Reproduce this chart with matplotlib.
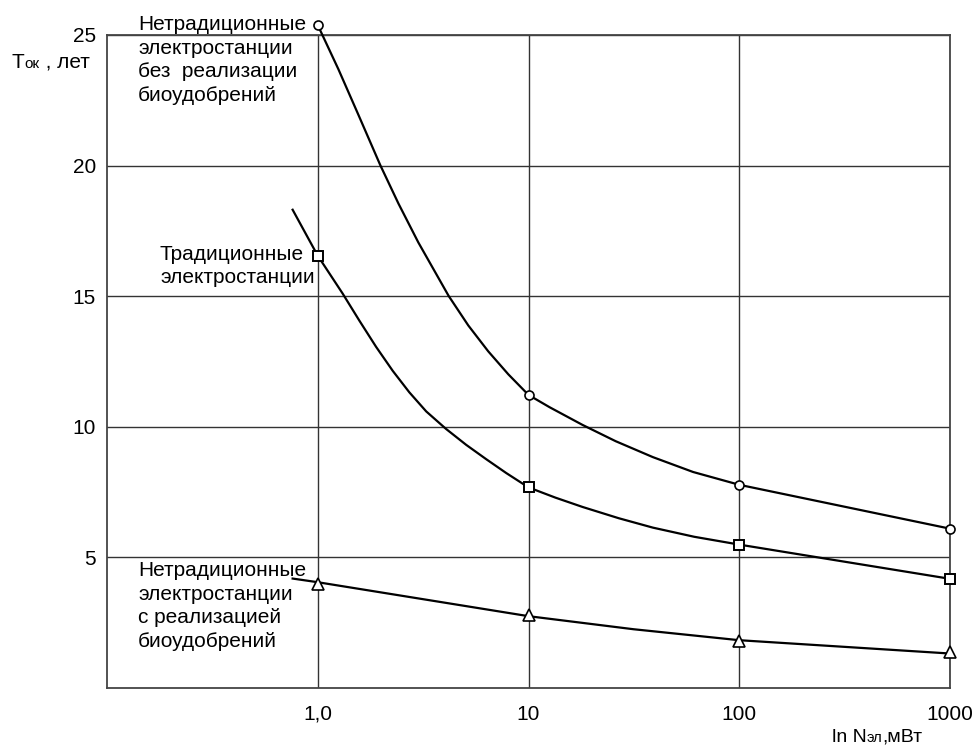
import matplotlib.pyplot as plt
from matplotlib.offsetbox import TextArea, HPacker, AnnotationBbox

plt.rcParams['font.family'] = ['Liberation Sans', 'DejaVu Sans']

# x positions of the marked points (log axis)
mark_x = [1, 10, 100, 1000]
circle_y = [25.38, 11.22, 7.78, 6.1]
square_y = [16.55, 7.68, 5.49, 4.18]
triangle_y = [3.98, 2.78, 1.8, 1.38]

# curves
circle_curve_x = [1, 1.253, 1.56, 1.982, 2.414, 3.0, 4.18, 5.18, 6.44, 8.02, 10,
                  12.59, 18.07, 25.9, 38.9, 60.4, 100, 1000]
circle_curve_y = [25.38, 23.69, 21.94, 20.01, 18.55, 17.06, 15.01, 13.88, 12.89, 12.01, 11.22,
                  10.75, 10.07, 9.45, 8.84, 8.27, 7.78, 6.1]

square_curve_x = [0.76, 1, 1.313, 1.577, 1.892, 2.27, 2.72, 3.27, 4.06, 5.06, 6.30, 7.84, 10,
                  13.4, 18.07, 26.8, 38.9, 61.1, 100, 1000]
square_curve_y = [18.31, 16.55, 15.10, 14.06, 13.06, 12.14, 11.32, 10.59, 9.92, 9.31, 8.76, 8.23, 7.68,
                  7.29, 6.93, 6.50, 6.14, 5.79, 5.49, 4.18]

triangle_curve_x = [0.76, 1, 10, 31.5, 100, 1000]
triangle_curve_y = [4.19, 4.05, 2.75, 2.25, 1.83, 1.32]

x_ticks = [1, 10, 100, 1000]
x_tick_labels = ['1,0', '10', '100', '1000']
y_ticks = [5, 10, 15, 20, 25]

label_top = 'Нетрадиционные\nэлектростанции\nбез  реализации\nбиоудобрений'
label_mid = 'Традиционные\nэлектростанции'
label_low = 'Нетрадиционные\nэлектростанции\nс реализацией\nбиоудобрений'

fs = 15
fig = plt.figure(figsize=(9.75, 7.45), dpi=100)
ax = fig.add_axes([107 / 975, 1 - 688 / 745, 843 / 975, 653 / 745])
ax.set_xscale('log')
ax.set_xlim(0.1, 1000)
ax.set_ylim(0, 25)

ax.plot(circle_curve_x, circle_curve_y, color='black', lw=1.6, zorder=3, clip_on=False)
ax.plot(square_curve_x, square_curve_y, color='black', lw=1.6, zorder=3)
ax.plot(triangle_curve_x, triangle_curve_y, color='black', lw=1.6, zorder=3)

ax.plot(mark_x, circle_y, 'o', ms=6.5, mfc='white', mec='black', mew=1.2, ls='none', zorder=4, clip_on=False)
ax.plot(mark_x, square_y, 's', ms=7.5, mfc='white', mec='black', mew=1.4, ls='none', zorder=4, clip_on=False)
ax.plot(mark_x, triangle_y, '^', ms=8, mfc='white', mec='black', mew=1.2, ls='none', zorder=4, clip_on=False)

ax.set_xticks(x_ticks)
ax.set_xticklabels(x_tick_labels)
ax.minorticks_off()
ax.set_yticks(y_ticks)
ax.tick_params(axis='both', length=0, labelsize=fs)
ax.tick_params(axis='x', pad=12)
ax.tick_params(axis='y', pad=8)
ax.grid(True, color='#333333', lw=1)
for s in ax.spines.values():
    s.set_color('#444444')
    s.set_linewidth(1.3)

fig.text(138 / 975, 1 - 60 / 745, label_top, fontsize=fs, ha='left', va='center', linespacing=1.32)
fig.text(160 / 975, 1 - 266 / 745, label_mid, fontsize=fs, ha='left', va='center', linespacing=1.32)
fig.text(138 / 975, 1 - 606 / 745, label_low, fontsize=fs, ha='left', va='center', linespacing=1.32)


def mixed_label(parts, xy):
    boxes = [TextArea(t, textprops=dict(fontsize=s, color='black')) for t, s in parts]
    pack = HPacker(children=boxes, align='baseline', pad=0, sep=0)
    ab = AnnotationBbox(pack, xy, xycoords='figure fraction', frameon=False,
                        box_alignment=(0, 0.5), pad=0)
    fig.add_artist(ab)


mixed_label([('Т', fs), ('ок', 11), (' , лет', fs)], (12 / 975, 1 - 62 / 745))
mixed_label([('ln N', 14), ('эл', 10.5), (',мВт', 14)], (832 / 975, 1 - 737 / 745))

fig.savefig('out.png', dpi=100)
